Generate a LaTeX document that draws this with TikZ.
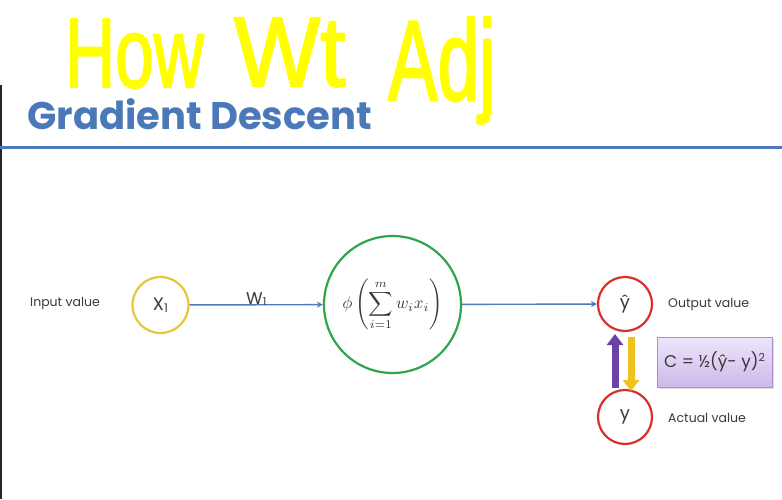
\documentclass[tikz,border=0pt]{standalone}
\usepackage{fontspec}
\setmainfont{Poppins}
\newfontfamily\handfont{Liberation Sans}
\newfontfamily\labelfont{Poppins}
\usetikzlibrary{arrows.meta,shadows}
\definecolor{slideblue}{HTML}{4F7BBE}
\definecolor{titleblue}{HTML}{4A78B8}
\definecolor{inkyellow}{HTML}{FFFF00}
\definecolor{xyellow}{HTML}{E8C63A}
\definecolor{sumgreen}{HTML}{2FA64C}
\definecolor{outred}{HTML}{D8302C}
\definecolor{uppurple}{HTML}{6B42A6}
\definecolor{downgold}{HTML}{F1C21C}
\definecolor{boxtop}{HTML}{EEE4FA}
\definecolor{boxbot}{HTML}{CDB9EC}
\definecolor{boxline}{HTML}{A78ED2}
\definecolor{labelgray}{HTML}{3A3A3A}
% marker-like lettering: glyphs filled and stroked
\newcommand{\markerink}[1]{\special{pdf:literal direct 2 Tr 2.2 w 1 j}#1\special{pdf:literal direct 0 Tr}}
\tikzset{
  hand/.style={text=inkyellow, font=\handfont\fontsize{99}{99}\selectfont, inner sep=0pt, anchor=base west, text depth=0pt},
  neuron/.style={circle, draw, line width=2.2pt, fill=white, inner sep=0pt, text=labelgray},
  lbl/.style={font=\labelfont\fontsize{12.5}{14}\selectfont, text=labelgray, inner sep=0pt},
  link/.style={draw=slideblue, line width=1.4pt, -{Stealth[length=6pt,width=6pt]}},
  fatarrow/.style={line width=7pt, -{Triangle[length=11pt,width=16pt]}},
}
\begin{document}
\begin{tikzpicture}[x=1pt,y=-1pt]
\useasboundingbox (0,0) rectangle (782,499);
\fill[white] (0,0) rectangle (782,499);

% slide frame: dark left edge and blue rule under the title
\fill[black!85] (0,85) rectangle (2,499);
\fill[slideblue] (0,145.5) rectangle (782,148.5);

% title
\node[anchor=base west, inner sep=0pt, text=titleblue, font=\bfseries\fontsize{38.5}{42}\selectfont] (title) at (27,129) {Gradient Descent};

% handwritten note
\node[hand, xscale=0.7] (hw1) at (65,87) {\markerink{How}};
\node[hand, xscale=0.92] (hw2) at (234,86) {\markerink{Wt}};
\node[hand, xscale=0.75, yscale=1.15] (hw3) at (388,100) {\markerink{Adj}};

% neurons
\node[neuron, draw=xyellow, minimum size=56pt, font=\labelfont\fontsize{18}{20}\selectfont] (x1) at (160.5,305) {X\raisebox{-1.5pt}{\fontsize{12}{12}\selectfont 1}};
\node[neuron, draw=sumgreen, minimum size=137pt] (sum) at (392.5,304.5) {\scalebox{1.7}{$\displaystyle \phi\left(\sum_{i=1}^{m} w_i x_i\right)$}};
\node[neuron, draw=outred, minimum size=54pt, font=\labelfont\fontsize{18}{20}\selectfont] (yhat) at (625,304) {ŷ};
\node[neuron, draw=outred, minimum size=54pt, font=\labelfont\fontsize{18}{20}\selectfont] (y) at (625,417) {y};

% labels
\node[lbl, anchor=west] (inlbl) at (30,303) {Input value};
\node[lbl, anchor=west] (outlbl) at (668,304) {Output value};
\node[lbl, anchor=west] (actlbl) at (668,418) {Actual value};

% connections
\draw[link] (x1) -- (sum) node[midway, above=-1pt, font=\labelfont\fontsize{17}{18}\selectfont, text=labelgray, inner sep=0pt] (w1) {W\raisebox{-1pt}{\fontsize{11}{11}\selectfont 1}};
\draw[link] (sum) -- (yhat);

% cost box
\node[draw=boxline, line width=1pt, top color=boxtop, bottom color=boxbot, minimum width=115pt, minimum height=50pt, inner sep=0pt,
      drop shadow={shadow xshift=1.5pt, shadow yshift=-1.5pt, opacity=0.25},
      font=\labelfont\fontsize{17}{18}\selectfont, text=labelgray] (cost) at (714.5,362) {C = ½(ŷ- y)\raisebox{6pt}{\fontsize{11}{11}\selectfont 2}};

% back-and-forth arrows between prediction and target
\coordinate (upfrom) at (615,388);
\coordinate (upto) at (615,334);
\coordinate (downfrom) at (631,337);
\coordinate (downto) at (631,391);
\draw[fatarrow, draw=uppurple, fill=uppurple] (upfrom) -- (upto);
\draw[fatarrow, draw=downgold, fill=downgold] (downfrom) -- (downto);
\end{tikzpicture}
\end{document}
